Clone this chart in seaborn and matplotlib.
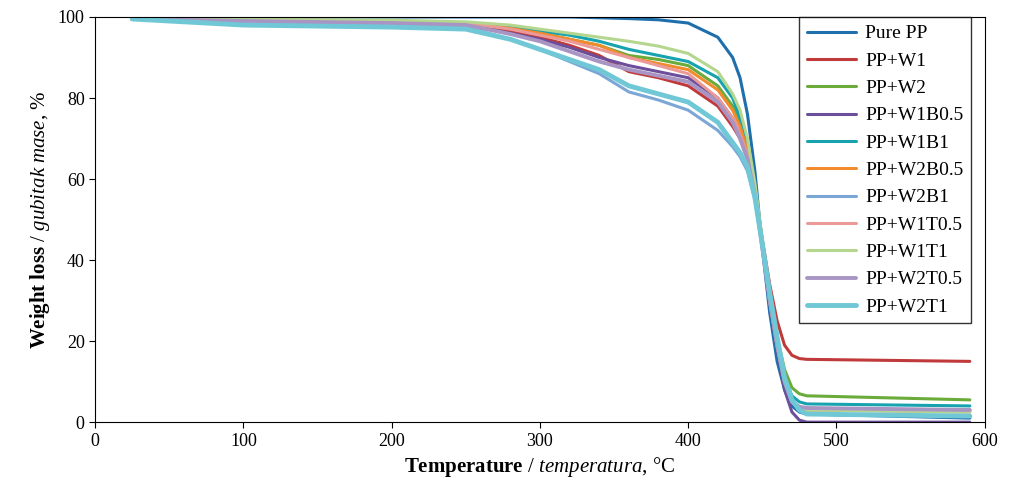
import numpy as np
import pandas as pd
import seaborn as sns
import matplotlib.pyplot as plt

sns.set_style("white")
plt.rcParams['font.family'] = ['Liberation Serif', 'DejaVu Serif']
plt.rcParams['mathtext.fontset'] = 'custom'
plt.rcParams['mathtext.rm'] = 'Liberation Serif'
plt.rcParams['mathtext.it'] = 'Liberation Serif:italic'
plt.rcParams['mathtext.bf'] = 'Liberation Serif:bold'
plt.rcParams['text.color'] = 'black'
plt.rcParams['axes.labelcolor'] = 'black'
plt.rcParams['xtick.color'] = 'black'
plt.rcParams['ytick.color'] = 'black'

temps = [25, 100, 200, 250, 280, 300, 320, 340, 360, 380, 400, 420, 430, 435, 440, 445,
         450, 455, 460, 465, 470, 475, 480, 590]
names = ["Pure PP", "PP+W1", "PP+W2", "PP+W1B0.5", "PP+W1B1", "PP+W2B0.5",
         "PP+W2B1", "PP+W1T0.5", "PP+W1T1", "PP+W2T0.5", "PP+W2T1"]
pure_pp  = [100, 100, 100, 100, 100, 100, 100, 99.8, 99.6, 99.3, 98.5, 95, 90, 85, 76, 62, 43, 27, 15, 8, 4, 2.5, 2, 1]
pp_w1    = [99.5, 99.3, 99, 98.2, 96.5, 95, 93, 90.5, 86.5, 85, 83, 78, 73, 70, 65, 57, 45, 34, 25, 19, 16.5, 15.7, 15.5, 15]
pp_w2    = [99.5, 99.3, 99, 98.5, 97.5, 96, 94.5, 93, 90.5, 89.5, 88, 83, 78, 74, 68, 58, 45, 32, 21, 13, 8.5, 7, 6.5, 5.5]
pp_w1b05 = [99.5, 99.2, 98.8, 98, 96, 94.5, 92.5, 90, 88, 86.5, 85, 80, 75, 71, 66, 57, 44, 30, 18, 8, 2.5, 0.5, 0, 0]
pp_w1b1  = [99.5, 99.3, 99, 98.5, 97.5, 96.5, 95.5, 94, 92, 90.5, 89, 85, 80, 75, 68, 58, 44, 30, 19, 11, 6.5, 5, 4.5, 4]
pp_w2b05 = [99.5, 99.3, 99, 98.5, 97.2, 96, 94.5, 93, 90, 88.5, 87, 82, 77, 73, 67, 57, 44, 30, 19, 10, 5, 3.5, 3, 3]
pp_w2b1  = [99.5, 98.5, 98, 97.5, 94.5, 92, 89, 86, 81.5, 79.5, 77, 72, 68, 65.5, 62, 55, 44, 32, 21, 11, 5.5, 3, 2, 1.5]
pp_w1t05 = [99.5, 99.3, 99, 98.5, 97, 95.5, 94, 92, 90, 88, 86, 80, 75, 71, 66, 57, 44, 30, 19, 10, 5, 3.5, 3, 2.5]
pp_w1t1  = [99.5, 99.4, 99.2, 98.8, 98, 97, 96, 95, 94, 92.8, 91, 86.5, 81, 77, 70, 59, 45, 30, 19, 10, 5, 3.5, 3, 2.5]
pp_w2t05 = [99.5, 99, 98.5, 98, 95.8, 94, 91.5, 89, 87, 85.5, 84, 79, 74, 70, 65, 56, 43, 30, 19, 10, 5, 3.8, 3.5, 3]
pp_w2t1  = [99.5, 98, 97.5, 97, 94.5, 92, 89.5, 87, 83, 81, 79, 74, 69, 66.5, 63, 55.5, 44, 32, 21, 11, 5.5, 3, 2, 1.5]
series = [pure_pp, pp_w1, pp_w2, pp_w1b05, pp_w1b1, pp_w2b05, pp_w2b1,
          pp_w1t05, pp_w1t1, pp_w2t05, pp_w2t1]
colors = ["#1f6fad", "#c0393b", "#6aab3a", "#6b4f9a", "#17a2b0", "#f28a2e",
          "#7ba7d6", "#eb9a98", "#b5d68f", "#a895c4", "#70c8d6"]
widths = [2.2, 2.2, 2.2, 2.2, 2.2, 2.2, 2.2, 2.2, 2.2, 2.8, 3.5]

rows = []
for n, s in zip(names, series):
    for t, v in zip(temps, s):
        rows.append((n, t, v))
df = pd.DataFrame(rows, columns=["name", "T", "m"])

fig = plt.figure(figsize=(10.12, 4.99), dpi=100)
ax = fig.add_axes([0.094, 0.154, 0.879, 0.812])
for n, c, w in zip(names, colors, widths):
    sub = df[df.name == n]
    sns.lineplot(data=sub, x="T", y="m", color=c, lw=w, ax=ax, label=n)

ax.set_xlim(0, 600)
ax.set_ylim(0, 100)
ax.set_xticks(range(0, 601, 100))
ax.set_yticks(range(0, 101, 20))
ax.tick_params(labelsize=13, direction='out', length=4, left=True, bottom=True)
for sp in ax.spines.values():
    sp.set_color('black')
ax.set_xlabel(r"$\mathbf{Temperature}$ / $\mathit{temperatura}$, °C", fontsize=15)
ax.set_ylabel(r"$\mathbf{Weight\ loss}$ / $\mathit{gubitak\ mase}$, $\mathit{\%}$", fontsize=15)
leg = ax.legend(loc='upper right', bbox_to_anchor=(0.985, 1.0), fontsize=14, frameon=True,
                fancybox=False, edgecolor='black', handlelength=2.5, handletextpad=0.5,
                borderaxespad=0, labelspacing=0.5)
leg.get_frame().set_linewidth(1)
fig.savefig("out.png", dpi=100)
